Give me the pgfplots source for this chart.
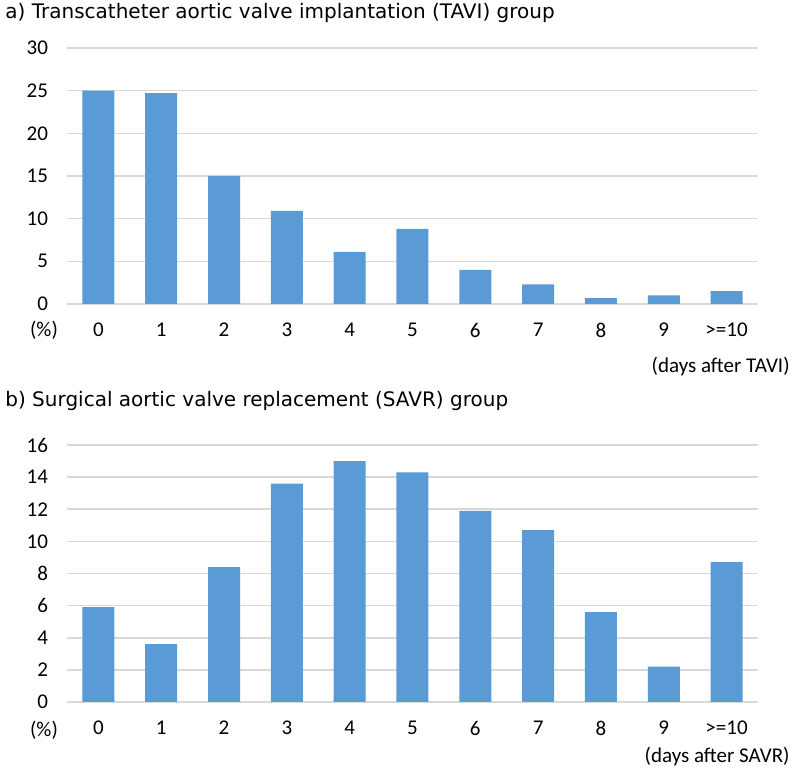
\documentclass[border=0pt]{standalone}
\usepackage{pgfplots}
\pgfplotsset{compat=1.18}
\usepackage{fontspec}
\setmainfont{Carlito}
\newfontfamily\titlefont{DejaVu Sans}
\definecolor{barblue}{HTML}{5B9BD5}
\definecolor{gridgray}{HTML}{D9D9D9}
\pgfplotsset{
  mybars/.style={
    width=345.5pt, height=128pt, scale only axis,
    anchor=south west,
    xmin=-0.5, xmax=10.5,
    ymin=0,
    xtick={0,...,10},
    xticklabels={0,1,2,3,4,5,6,7,8,9,{>=10}},
    axis line style={draw=none},
    major tick length=0pt,
    ymajorgrids, grid style={gridgray, line width=0.8pt},
    tick label style={font=\fontsize{10.5}{12}\selectfont},
    /pgf/number format/assume math mode=true,
    yticklabel style={xshift=-6pt},
    xticklabel style={yshift=-6pt},
    clip=false,
  }
}
\begin{document}
\begin{tikzpicture}[x=1pt,y=1pt]
\path[use as bounding box] (0,0) rectangle (400,387);
\begin{axis}[mybars, at={(33.5pt,235pt)}, ymax=30, ytick={0,5,...,30}]
\addplot[ybar, bar width=16pt, fill=barblue, draw=none] coordinates {
(0,25.0) (1,24.7) (2,15.0) (3,10.9) (4,6.1) (5,8.8) (6,4.0) (7,2.3) (8,0.7) (9,1.0) (10,1.5)};
\end{axis}
\begin{axis}[mybars, at={(33.5pt,36pt)}, height=128.5pt, ymax=16, ytick={0,2,...,16}]
\addplot[ybar, bar width=16pt, fill=barblue, draw=none] coordinates {
(0,5.9) (1,3.6) (2,8.4) (3,13.6) (4,15.0) (5,14.3) (6,11.9) (7,10.7) (8,5.6) (9,2.2) (10,8.7)};
\end{axis}
\node[anchor=west, inner sep=0pt, font=\titlefont\fontsize{10}{12}\selectfont] at (2.5,380.5) {a) Transcatheter aortic valve implantation (TAVI) group};
\node[anchor=west, inner sep=0pt, font=\titlefont\fontsize{10}{12}\selectfont] at (2.5,186.5) {b) Surgical aortic valve replacement (SAVR) group};
\node[font=\fontsize{10.5}{12}\selectfont] at (22,222) {(\%)};
\node[font=\fontsize{10.5}{12}\selectfont] at (22,22) {(\%)};
\node[anchor=east, inner sep=0pt, font=\fontsize{10.5}{12}\selectfont] at (395,203.5) {(days after TAVI)};
\node[anchor=east, inner sep=0pt, font=\fontsize{10.5}{12}\selectfont] at (395,8.5) {(days after SAVR)};
\end{tikzpicture}
\end{document}
